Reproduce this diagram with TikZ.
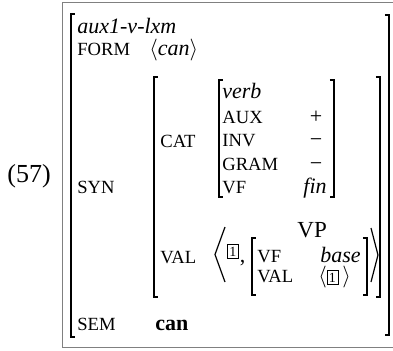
\documentclass[tikz,border=0pt]{standalone}
\usepackage{fontspec}
\setmainfont{Liberation Serif}
\begin{document}
\begin{tikzpicture}[x=0.5pt,y=-0.5pt,
  every node/.style={inner sep=0pt,anchor=base west},
  attr/.style={font=\fontsize{9.3}{10}\selectfont},
  val/.style={font=\fontsize{11}{12}\selectfont},
  brk/.style={line width=0.6pt},
  tag/.style={draw,line width=0.4pt,anchor=center,minimum width=5.5pt,minimum height=7pt,font=\fontsize{7}{8}\selectfont}]
\useasboundingbox (0,0) rectangle (393,350);

\draw[gray,line width=0.5pt] (393,2) -- (63,2) -- (63,347) -- (393,347); % cornice

\node (num) at (7,182) {\fontsize{13}{15}\selectfont (57)};

% matrice esterna
\draw[brk] (75,14) -- (71,14) -- (71,337) -- (75,337);
\draw[brk] (385,15) -- (389,15) -- (389,335) -- (385,335);
\node[val] (type) at (77,33) {\itshape aux1-v-lxm};
\node[attr] (form) at (77,55) {FORM};
\node[val] (formv) at (149,55) {$\langle$\textit{can}$\rangle$};
\node[attr] (syn) at (77,193) {SYN};
\node[attr] (sem) at (77,330) {SEM};
\node[val] (semv) at (155,330) {\bfseries can};

% SYN
\draw[brk] (158,77) -- (154,77) -- (154,297) -- (158,297);
\draw[brk] (376,77) -- (380,77) -- (380,297) -- (376,297);
\node[attr] (cat) at (160,147) {CAT};
\node[attr] (val) at (160,263) {VAL};

% CAT
\draw[brk] (223,80) -- (219,80) -- (219,197) -- (223,197);
\draw[brk] (330,80) -- (334,80) -- (334,197) -- (330,197);
\node[val] (verb) at (222,98) {\itshape verb};
\node[attr] (aux) at (222,123) {AUX};
\node[attr] (inv) at (222,146.5) {INV};
\node[attr] (gram) at (222,170) {GRAM};
\node[attr] (vf) at (222,193.5) {VF};
\begin{scope}[every node/.style={inner sep=0pt,anchor=base,font=\fontsize{11}{12}\selectfont}]
  \node (auxv) at (316,123) {+};
  \node (invv) at (316,146.5) {−};
  \node (gramv) at (316,170) {−};
  \node (vfv) at (315,193.5) {\itshape fin};
\end{scope}

% VAL
\draw[brk] (225,227) -- (215,254.5) -- (225,282); % apertura lista
\draw[brk] (371,228) -- (378,255) -- (371,282); % chiusura lista
\node[tag] (t1) at (233,251.5) {1};
\node[val] (comma) at (239.5,262) {,};
\node (vp) at (297,237) {\fontsize{11.5}{13}\selectfont VP};
\draw[brk] (256,238) -- (252,238) -- (252,295) -- (256,295);
\draw[brk] (363,238) -- (367,238) -- (367,295) -- (363,295);
\node[attr] (vf2) at (257,262) {VF};
\node[attr] (val2) at (257,282) {VAL};
\node[val] (base) at (320,262) {\itshape base};
\node[val] (la) at (318,282) {$\langle$};
\node[tag] (t2) at (332.5,277.5) {1};
\node[val] (ra) at (342,282) {$\rangle$};

\end{tikzpicture}
\end{document}
